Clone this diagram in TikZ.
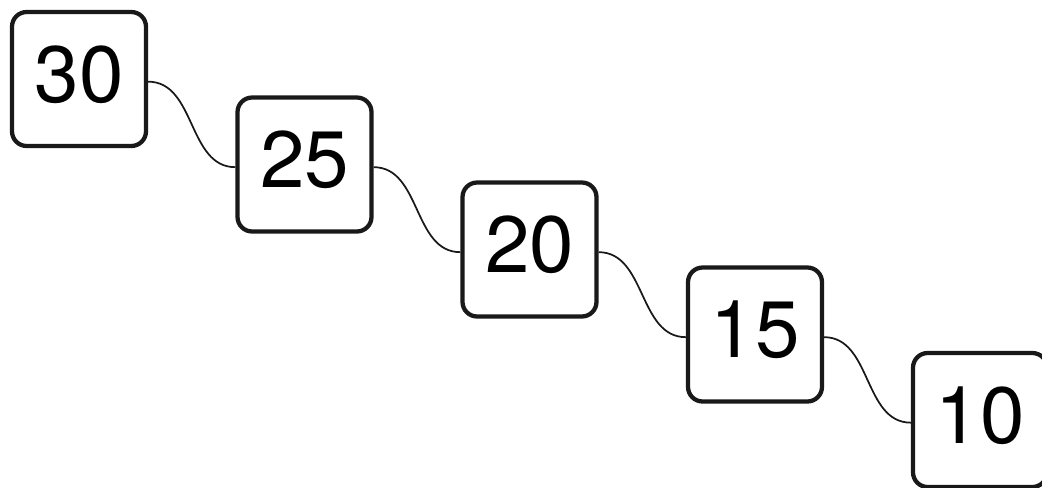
\documentclass[tikz,border=0pt]{standalone}
\usepackage{fontspec}
\setmainfont{TeX Gyre Heros}
\begin{document}
\begin{tikzpicture}[x=0.75pt,y=-0.75pt,
  numbox/.style={draw=black!90,line width=3.2pt,rounded corners=11pt,minimum width=100.5pt,minimum height=100.5pt,inner sep=0pt,font=\fontsize{60}{60}\selectfont,text height=35pt,text depth=0pt},
  link/.style={draw=black!90,line width=1.3pt,out=0,in=180}]
\useasboundingbox (0,0) rectangle (1042,487);
\clip (0,0) rectangle (1042,487);
\node[numbox] (a) at (79,79) {30};
\node[numbox] (b) at (304.5,164.5) {25};
\node[numbox] (c) at (529.5,249.5) {20};
\node[numbox] (d) at (755,334.5) {15};
\node[numbox] (e) at (980,420) {10};
\draw[link] ([yshift=-2pt]a.east) to ([yshift=-2pt]b.west);
\draw[link] ([yshift=-2pt]b.east) to ([yshift=-2pt]c.west);
\draw[link] ([yshift=-2pt]c.east) to ([yshift=-2pt]d.west);
\draw[link] ([yshift=-2pt]d.east) to ([yshift=-2pt]e.west);
\end{tikzpicture}
\end{document}
